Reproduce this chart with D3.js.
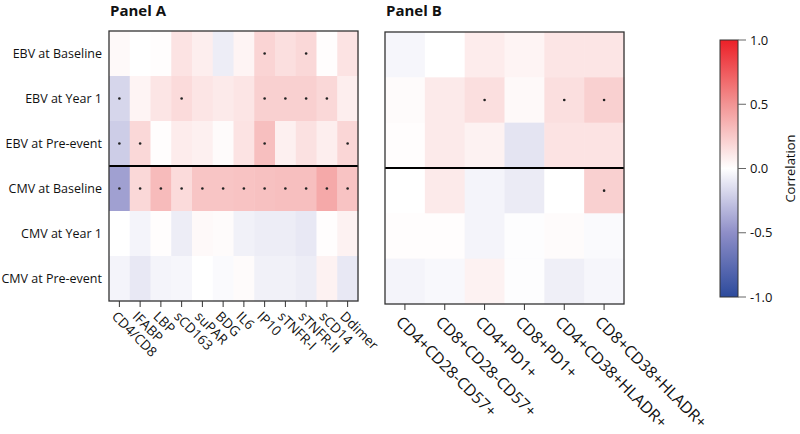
<!DOCTYPE html>
<html lang="en">
<head>
<meta charset="UTF-8">
<title>Correlation heatmaps</title>
<script src="https://d3js.org/d3.v7.min.js"></script>
<style>
  body { margin: 0; background: #fff; }
  svg { font-family: "Open Sans", sans-serif; }
</style>
</head>
<body>
<svg id="chart" width="800" height="434"></svg>
<script>
  // ---- data ----
  const rows = ["EBV at Baseline", "EBV at Year 1", "EBV at Pre-event",
                "CMV at Baseline", "CMV at Year 1", "CMV at Pre-event"];

  const colsA = ["CD4/CD8", "IFABP", "LBP", "sCD163", "suPAR", "BDG", "IL6",
                 "IP10", "sTNFR-I", "sTNFR-II", "sCD14", "Ddimer"];
  const valuesA = [
    [ 0.03,  0.00,  0.01,  0.13,  0.08, -0.08,  0.05,  0.20,  0.15,  0.18,  0.01,  0.13],
    [-0.18,  0.05,  0.12,  0.17,  0.12,  0.10,  0.12,  0.22,  0.22,  0.22,  0.18,  0.08],
    [-0.22,  0.18,  0.01,  0.09,  0.07,  0.02,  0.13,  0.30,  0.07,  0.14,  0.08,  0.19],
    [-0.42,  0.18,  0.32,  0.17,  0.27,  0.27,  0.28,  0.29,  0.30,  0.30,  0.40,  0.28],
    [ 0.00, -0.05,  0.01, -0.08,  0.03,  0.02, -0.06, -0.08, -0.08, -0.10,  0.01,  0.06],
    [-0.05, -0.10, -0.05, -0.04,  0.00, -0.02,  0.02, -0.06, -0.06, -0.08,  0.06, -0.10]
  ];
  const sigA = [
    [0,0,0,0,0,0,0,1,0,1,0,0],
    [1,0,0,1,0,0,0,1,1,1,1,0],
    [1,1,0,0,0,0,0,1,0,0,0,1],
    [1,1,1,1,1,1,1,1,1,1,1,1],
    [0,0,0,0,0,0,0,0,0,0,0,0],
    [0,0,0,0,0,0,0,0,0,0,0,0]
  ];

  const colsB = ["CD4+CD28-CD57+", "CD8+CD28-CD57+", "CD4+PD1+", "CD8+PD1+",
                 "CD4+CD38+HLADR+", "CD8+CD38+HLADR+"];
  const valuesB = [
    [-0.04,  0.00,  0.09,  0.05,  0.12,  0.12],
    [ 0.02,  0.10,  0.15,  0.03,  0.15,  0.22],
    [ 0.01,  0.10,  0.06, -0.12,  0.13,  0.13],
    [ 0.00,  0.10, -0.05, -0.09,  0.00,  0.22],
    [ 0.01,  0.01, -0.05, -0.01,  0.02, -0.02],
    [-0.05, -0.03,  0.06, -0.01, -0.07, -0.04]
  ];
  const sigB = [
    [0,0,0,0,0,0],
    [0,0,1,0,1,1],
    [0,0,0,0,0,0],
    [0,0,0,0,0,1],
    [0,0,0,0,0,0],
    [0,0,0,0,0,0]
  ];

  const legendTicks = [1.0, 0.5, 0.0, -0.5, -1.0];

  // ---- chart ----
  const svg = d3.select("#chart");
  const color = d3.scaleLinear()
    .domain([-1, -0.5, 0, 0.5, 1])
    .range(["#2c4a9c", "#8e8ec8", "#ffffff", "#f29494", "#ec2027"])
    .interpolate(d3.interpolateRgb);

  function panel(opts) {
    const { title, cols, values, sig, x0, x1, y0, y1, labelSize, labelOff, showRows } = opts;
    const g = svg.append("g");
    const x = d3.scaleBand().domain(cols).range([x0, x1]);
    const y = d3.scaleBand().domain(rows).range([y0, y1]);

    const cells = rows.flatMap((r, i) => cols.map((c, j) => ({ r, c, v: values[i][j], s: sig[i][j] })));

    g.selectAll("rect.cell").data(cells).join("rect")
      .attr("class", "cell")
      .attr("x", d => x(d.c)).attr("y", d => y(d.r))
      .attr("width", x.bandwidth() + 0.5).attr("height", y.bandwidth() + 0.5)
      .attr("fill", d => color(d.v));

    g.selectAll("circle.sig").data(cells.filter(d => d.s)).join("circle")
      .attr("class", "sig")
      .attr("cx", d => x(d.c) + x.bandwidth() / 2)
      .attr("cy", d => y(d.r) + y.bandwidth() / 2)
      .attr("r", 1.3).attr("fill", "#222");

    // separator EBV / CMV
    g.append("line")
      .attr("x1", x0).attr("x2", x1)
      .attr("y1", y(rows[3])).attr("y2", y(rows[3]))
      .attr("stroke", "#000").attr("stroke-width", 2);

    g.append("rect")
      .attr("x", x0).attr("y", y0).attr("width", x1 - x0).attr("height", y1 - y0)
      .attr("fill", "none").attr("stroke", "#333").attr("stroke-width", 1.3);

    g.append("text")
      .attr("x", x0 + 1).attr("y", 16)
      .attr("font-size", 15).attr("font-weight", "bold").attr("fill", "#111")
      .text(title);

    // bottom ticks + rotated labels
    const tk = g.selectAll("g.tick").data(cols).join("g")
      .attr("class", "tick")
      .attr("transform", d => `translate(${x(d) + x.bandwidth() / 2},${y1})`);
    tk.append("line").attr("y1", 0).attr("y2", 6).attr("stroke", "#333").attr("stroke-width", 1);
    tk.append("text")
      .attr("transform", `translate(${labelOff[0]},${labelOff[1]}) rotate(45)`)
      .attr("font-size", labelSize).attr("fill", "#111")
      .attr("text-anchor", "start")
      .attr("dy", "0.35em")
      .text(d => d);

    if (showRows) {
      g.selectAll("text.row").data(rows).join("text")
        .attr("class", "row")
        .attr("x", x0 - 7).attr("y", d => y(d) + y.bandwidth() / 2)
        .attr("dy", "0.35em").attr("text-anchor", "end")
        .attr("font-size", 12.5).attr("fill", "#111")
        .text(d => d);
    }
  }

  panel({ title: "Panel A", cols: colsA, values: valuesA, sig: sigA,
          x0: 109, x1: 358, y0: 31, y1: 301, labelSize: 13.5, labelOff: [-5, 13], showRows: true });
  panel({ title: "Panel B", cols: colsB, values: valuesB, sig: sigB,
          x0: 385, x1: 624, y0: 32, y1: 304, labelSize: 16, labelOff: [-6, 15], showRows: false });

  // ---- colour legend ----
  const ly = d3.scaleLinear().domain([1, -1]).range([40, 297]);
  const defs = svg.append("defs");
  const grad = defs.append("linearGradient").attr("id", "cbar")
    .attr("x1", 0).attr("x2", 0).attr("y1", 0).attr("y2", 1);
  d3.range(0, 1.0001, 0.05).forEach(t => {
    grad.append("stop").attr("offset", t).attr("stop-color", color(1 - 2 * t));
  });
  svg.append("rect")
    .attr("x", 720).attr("y", ly(1)).attr("width", 18).attr("height", ly(-1) - ly(1))
    .attr("fill", "url(#cbar)").attr("stroke", "#333").attr("stroke-width", 1);

  const lt = svg.selectAll("g.ltick").data(legendTicks).join("g")
    .attr("class", "ltick")
    .attr("transform", d => `translate(738,${ly(d)})`);
  lt.append("line").attr("x1", 0).attr("x2", 8).attr("stroke", "#666").attr("stroke-width", 1);
  lt.append("text").attr("x", 12).attr("dy", "0.35em")
    .attr("font-size", 13).attr("fill", "#111")
    .text(d => d.toFixed(1));

  svg.append("text")
    .attr("transform", `translate(795,${(ly(1) + ly(-1)) / 2}) rotate(-90)`)
    .attr("text-anchor", "middle")
    .attr("font-size", 13).attr("fill", "#111")
    .text("Correlation");
</script>
</body>
</html>
